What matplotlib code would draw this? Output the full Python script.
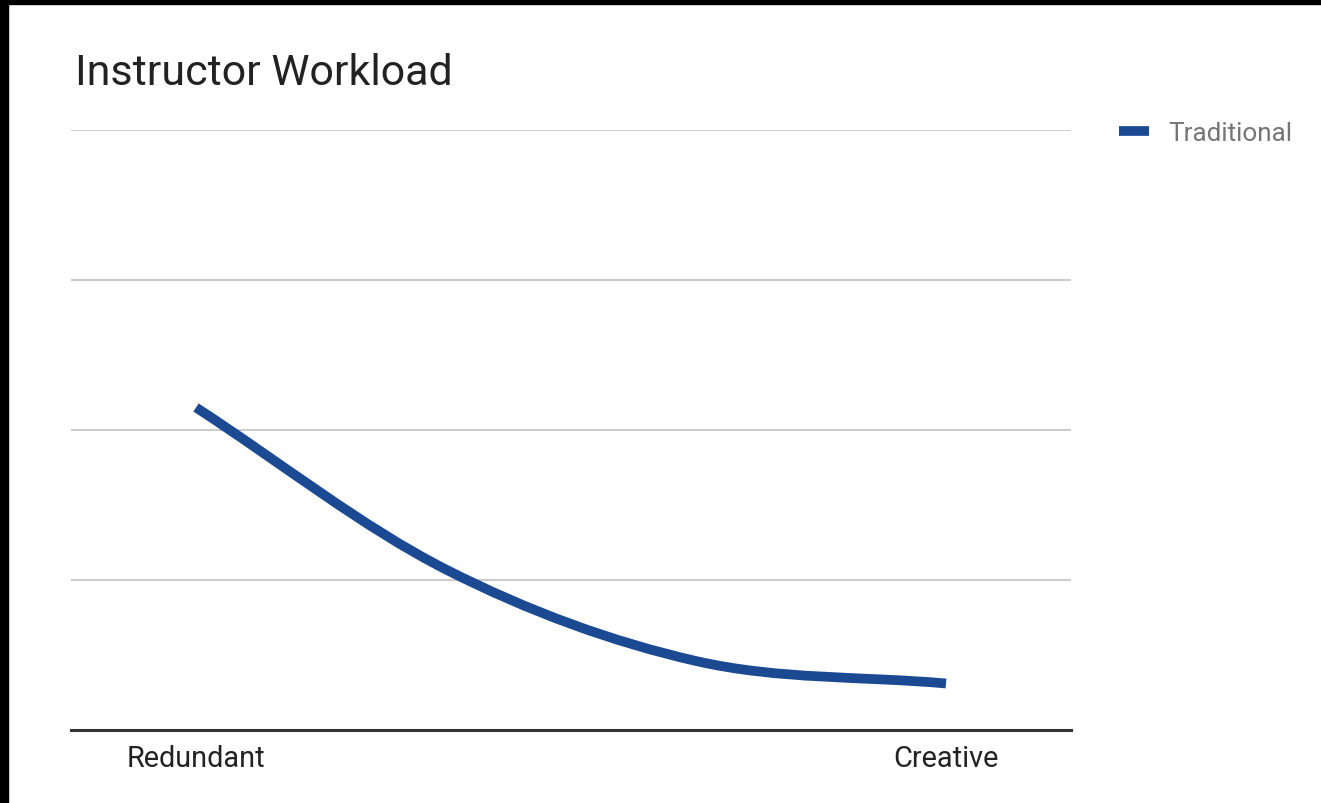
import numpy as np
import matplotlib
matplotlib.use("Agg")
import matplotlib.pyplot as plt
from matplotlib.path import Path
from matplotlib.patches import PathPatch, Rectangle
from matplotlib.lines import Line2D

plt.rcParams['font.family'] = ['Roboto', 'DejaVu Sans']

# chart data
TITLE = "Instructor Workload"
categories = ["Redundant", "", "", "Creative"]
series_name = "Traditional"
traditional = [2.15, 1.07, 0.46, 0.31]
y_ticks = [0, 1, 2, 3, 4]

LINE_COLOR = '#1c4a92'
W, H, DPI = 1321, 804, 100


def smooth_path(xs, ys, k=1.0 / 6):
  """Cubic bezier through the points (catmull-rom like smoothing)."""
  pts = np.column_stack([xs, ys]).astype(float)
  n = len(pts)
  verts = [pts[0]]
  codes = [Path.MOVETO]
  for i in range(n - 1):
    p_prev = pts[i - 1] if i > 0 else pts[i]
    p_next2 = pts[i + 2] if i + 2 < n else pts[i + 1]
    t0 = (pts[i + 1] - p_prev) * (k if i > 0 else 2 * k)
    t1 = (p_next2 - pts[i]) * (k if i + 2 < n else 2 * k)
    verts += [pts[i] + t0, pts[i + 1] - t1, pts[i + 1]]
    codes += [Path.CURVE4] * 3
  return Path(verts, codes)


fig = plt.figure(figsize=(W / DPI, H / DPI), dpi=DPI, facecolor='w')
ax = fig.add_axes([71 / W, 1 - 731 / H, 1000 / W, 600 / H])

x = np.arange(len(categories))
ax.set_xlim(-0.5, len(categories) - 0.5)
ax.set_ylim(y_ticks[0], y_ticks[-1])

# horizontal grid lines only
for yv in y_ticks[1:]:
  ax.axhline(yv, color='#cccccc', linewidth=1.5, zorder=1)
ax.axhline(0, color='#333333', linewidth=2.2, zorder=3, clip_on=False)

patch = PathPatch(smooth_path(x, traditional), facecolor='none', edgecolor=LINE_COLOR,
                  linewidth=7, capstyle='butt', joinstyle='round', zorder=2)
ax.add_patch(patch)

for s in ax.spines.values():
  s.set_visible(False)
ax.set_yticks([])
ax.set_xticks(x)
ax.set_xticklabels(categories, fontsize=20.8, color='#222222')
ax.tick_params(axis='x', length=0, pad=10)

fig.text(75 / W, 1 - 85 / H, TITLE, fontsize=31, color='#222222', ha='left', va='baseline')

# legend
handle = Line2D([], [], color=LINE_COLOR, linewidth=7, solid_capstyle='butt')
fig.legend([handle], [series_name], loc='upper left', bbox_to_anchor=(1119 / W, 1 - 122 / H),
           frameon=False, fontsize=18.8, labelcolor='#757575', handlelength=1.15,
           handletextpad=0.75, borderaxespad=0, borderpad=0)

# black frame on left/top edge of the screenshot
fig.patches.append(Rectangle((0, 0), 8 / W, 1, transform=fig.transFigure, color='black', zorder=10))
fig.patches.append(Rectangle((0, 1 - 5 / H), 1, 5 / H, transform=fig.transFigure, color='black', zorder=10))

fig.savefig("out.png", dpi=DPI, facecolor='w')
plt.close()
